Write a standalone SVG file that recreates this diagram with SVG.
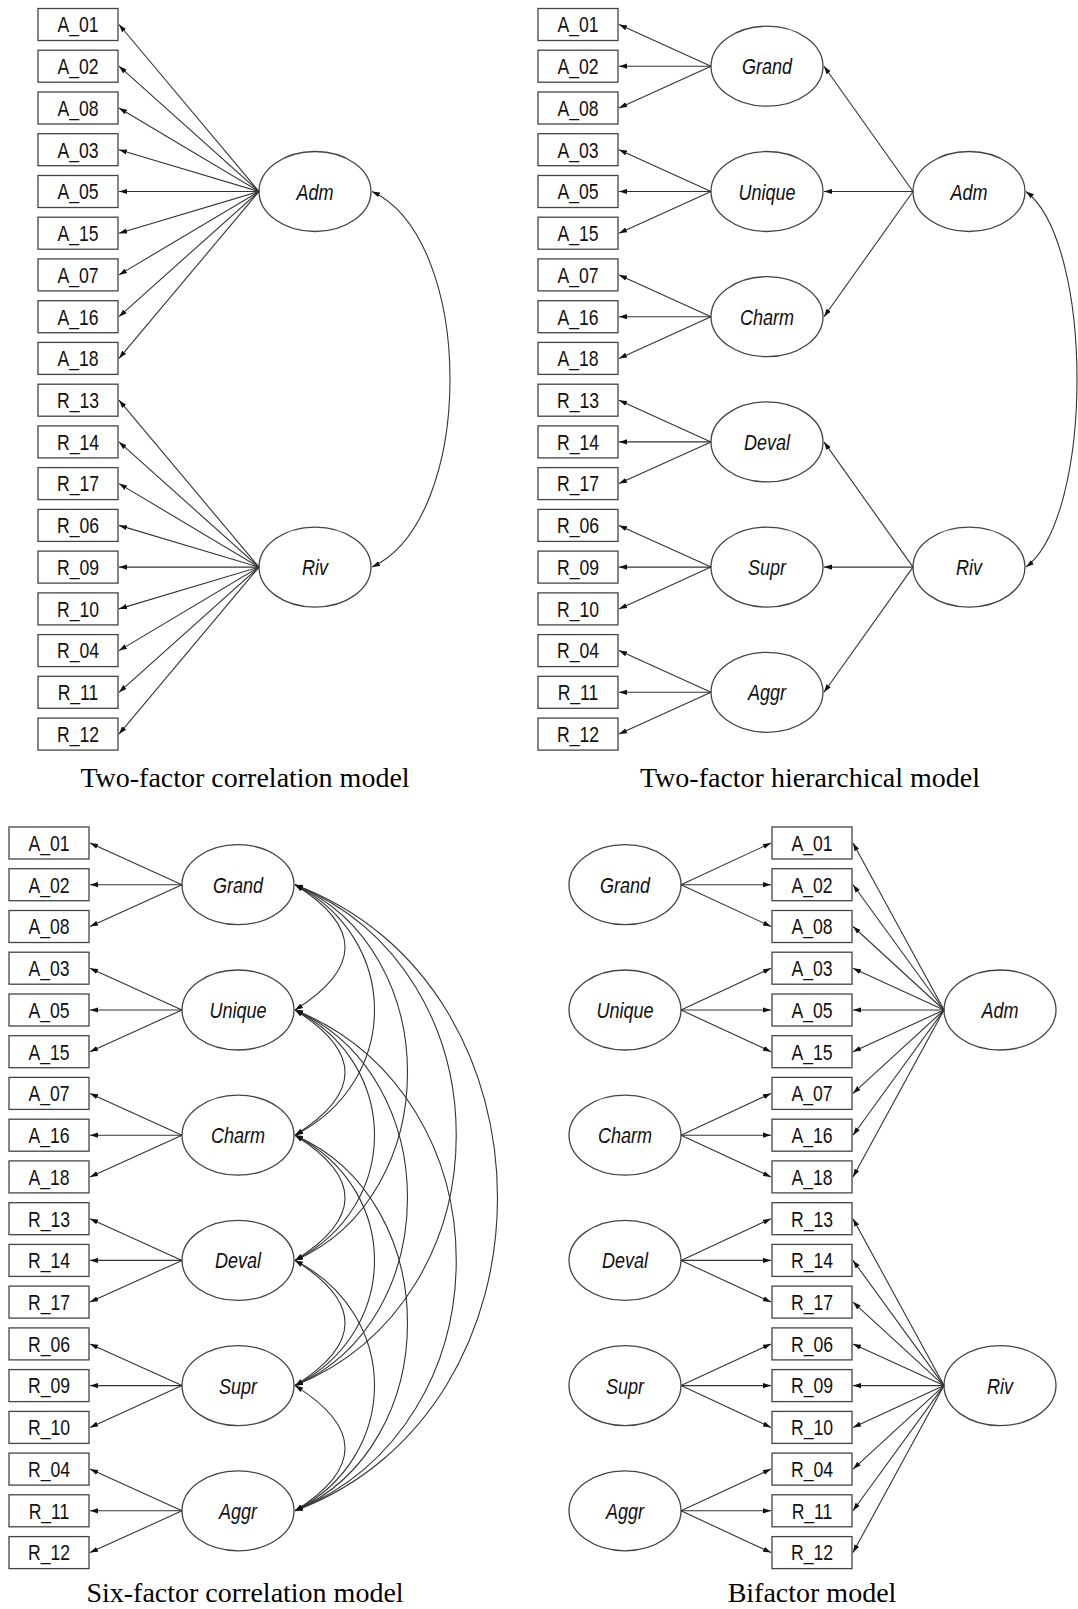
<svg xmlns="http://www.w3.org/2000/svg" width="1078" height="1609" viewBox="0 0 1078 1609">
<defs>
<marker id="ah" viewBox="0 0 8 6" refX="8" refY="3" markerWidth="8" markerHeight="6" markerUnits="userSpaceOnUse" orient="auto-start-reverse"><path d="M0,0.4 L8,3 L0,5.6 z" fill="#111"/></marker>
<style>
.box rect{fill:#fff;stroke:#444;stroke-width:1.3}
.lv ellipse{fill:#fff;stroke:#444;stroke-width:1.3}
text.m{font-family:"Liberation Sans",Arial,sans-serif;font-size:22px;text-anchor:middle;fill:#111}
text.f{font-family:"Liberation Sans",Arial,sans-serif;font-size:22px;font-style:italic;text-anchor:middle;fill:#111}
text.cap{font-family:"Liberation Serif","Times New Roman",serif;font-size:28px;text-anchor:middle;fill:#000}
#connectors line,#connectors path{stroke:#333;stroke-width:1.1;fill:none;marker-end:url(#ah)}
#connectors path.dbl{marker-start:url(#ah)}
</style>
</defs>
<rect width="1078" height="1609" fill="#fff"/>

<!-- Panel 1 nodes -->
<g id="p1_A_01" class="box"><rect x="38" y="8.5" width="80" height="32"/><text class="m" transform="translate(78,32.3) scale(0.8,1)">A_01</text></g>
<g id="p1_A_02" class="box"><rect x="38" y="50.2" width="80" height="32"/><text class="m" transform="translate(78,74) scale(0.8,1)">A_02</text></g>
<g id="p1_A_08" class="box"><rect x="38" y="92" width="80" height="32"/><text class="m" transform="translate(78,115.8) scale(0.8,1)">A_08</text></g>
<g id="p1_A_03" class="box"><rect x="38" y="133.7" width="80" height="32"/><text class="m" transform="translate(78,157.5) scale(0.8,1)">A_03</text></g>
<g id="p1_A_05" class="box"><rect x="38" y="175.5" width="80" height="32"/><text class="m" transform="translate(78,199.3) scale(0.8,1)">A_05</text></g>
<g id="p1_A_15" class="box"><rect x="38" y="217.2" width="80" height="32"/><text class="m" transform="translate(78,241) scale(0.8,1)">A_15</text></g>
<g id="p1_A_07" class="box"><rect x="38" y="258.9" width="80" height="32"/><text class="m" transform="translate(78,282.7) scale(0.8,1)">A_07</text></g>
<g id="p1_A_16" class="box"><rect x="38" y="300.7" width="80" height="32"/><text class="m" transform="translate(78,324.5) scale(0.8,1)">A_16</text></g>
<g id="p1_A_18" class="box"><rect x="38" y="342.4" width="80" height="32"/><text class="m" transform="translate(78,366.2) scale(0.8,1)">A_18</text></g>
<g id="p1_R_13" class="box"><rect x="38" y="384.2" width="80" height="32"/><text class="m" transform="translate(78,408) scale(0.8,1)">R_13</text></g>
<g id="p1_R_14" class="box"><rect x="38" y="425.9" width="80" height="32"/><text class="m" transform="translate(78,449.7) scale(0.8,1)">R_14</text></g>
<g id="p1_R_17" class="box"><rect x="38" y="467.6" width="80" height="32"/><text class="m" transform="translate(78,491.4) scale(0.8,1)">R_17</text></g>
<g id="p1_R_06" class="box"><rect x="38" y="509.4" width="80" height="32"/><text class="m" transform="translate(78,533.2) scale(0.8,1)">R_06</text></g>
<g id="p1_R_09" class="box"><rect x="38" y="551.1" width="80" height="32"/><text class="m" transform="translate(78,574.9) scale(0.8,1)">R_09</text></g>
<g id="p1_R_10" class="box"><rect x="38" y="592.9" width="80" height="32"/><text class="m" transform="translate(78,616.7) scale(0.8,1)">R_10</text></g>
<g id="p1_R_04" class="box"><rect x="38" y="634.6" width="80" height="32"/><text class="m" transform="translate(78,658.4) scale(0.8,1)">R_04</text></g>
<g id="p1_R_11" class="box"><rect x="38" y="676.3" width="80" height="32"/><text class="m" transform="translate(78,700.1) scale(0.8,1)">R_11</text></g>
<g id="p1_R_12" class="box"><rect x="38" y="718.1" width="80" height="32"/><text class="m" transform="translate(78,741.9) scale(0.8,1)">R_12</text></g>
<g id="p1_Adm" class="lv"><ellipse cx="315" cy="191.5" rx="56" ry="40"/><text class="f" transform="translate(315,199.5) scale(0.82,1)">Adm</text></g>
<g id="p1_Riv" class="lv"><ellipse cx="315" cy="567.1" rx="56" ry="40"/><text class="f" transform="translate(315,575.1) scale(0.82,1)">Riv</text></g>
<text class="cap" x="245" y="787">Two-factor correlation model</text>

<!-- Panel 2 nodes -->
<g id="p2_A_01" class="box"><rect x="538" y="8.5" width="80" height="32"/><text class="m" transform="translate(578,32.3) scale(0.8,1)">A_01</text></g>
<g id="p2_A_02" class="box"><rect x="538" y="50.2" width="80" height="32"/><text class="m" transform="translate(578,74) scale(0.8,1)">A_02</text></g>
<g id="p2_A_08" class="box"><rect x="538" y="92" width="80" height="32"/><text class="m" transform="translate(578,115.8) scale(0.8,1)">A_08</text></g>
<g id="p2_A_03" class="box"><rect x="538" y="133.7" width="80" height="32"/><text class="m" transform="translate(578,157.5) scale(0.8,1)">A_03</text></g>
<g id="p2_A_05" class="box"><rect x="538" y="175.5" width="80" height="32"/><text class="m" transform="translate(578,199.3) scale(0.8,1)">A_05</text></g>
<g id="p2_A_15" class="box"><rect x="538" y="217.2" width="80" height="32"/><text class="m" transform="translate(578,241) scale(0.8,1)">A_15</text></g>
<g id="p2_A_07" class="box"><rect x="538" y="258.9" width="80" height="32"/><text class="m" transform="translate(578,282.7) scale(0.8,1)">A_07</text></g>
<g id="p2_A_16" class="box"><rect x="538" y="300.7" width="80" height="32"/><text class="m" transform="translate(578,324.5) scale(0.8,1)">A_16</text></g>
<g id="p2_A_18" class="box"><rect x="538" y="342.4" width="80" height="32"/><text class="m" transform="translate(578,366.2) scale(0.8,1)">A_18</text></g>
<g id="p2_R_13" class="box"><rect x="538" y="384.2" width="80" height="32"/><text class="m" transform="translate(578,408) scale(0.8,1)">R_13</text></g>
<g id="p2_R_14" class="box"><rect x="538" y="425.9" width="80" height="32"/><text class="m" transform="translate(578,449.7) scale(0.8,1)">R_14</text></g>
<g id="p2_R_17" class="box"><rect x="538" y="467.6" width="80" height="32"/><text class="m" transform="translate(578,491.4) scale(0.8,1)">R_17</text></g>
<g id="p2_R_06" class="box"><rect x="538" y="509.4" width="80" height="32"/><text class="m" transform="translate(578,533.2) scale(0.8,1)">R_06</text></g>
<g id="p2_R_09" class="box"><rect x="538" y="551.1" width="80" height="32"/><text class="m" transform="translate(578,574.9) scale(0.8,1)">R_09</text></g>
<g id="p2_R_10" class="box"><rect x="538" y="592.9" width="80" height="32"/><text class="m" transform="translate(578,616.7) scale(0.8,1)">R_10</text></g>
<g id="p2_R_04" class="box"><rect x="538" y="634.6" width="80" height="32"/><text class="m" transform="translate(578,658.4) scale(0.8,1)">R_04</text></g>
<g id="p2_R_11" class="box"><rect x="538" y="676.3" width="80" height="32"/><text class="m" transform="translate(578,700.1) scale(0.8,1)">R_11</text></g>
<g id="p2_R_12" class="box"><rect x="538" y="718.1" width="80" height="32"/><text class="m" transform="translate(578,741.9) scale(0.8,1)">R_12</text></g>
<g id="p2_Grand" class="lv"><ellipse cx="767" cy="66.2" rx="56" ry="40"/><text class="f" transform="translate(767,74.2) scale(0.82,1)">Grand</text></g>
<g id="p2_Unique" class="lv"><ellipse cx="767" cy="191.5" rx="56" ry="40"/><text class="f" transform="translate(767,199.5) scale(0.82,1)">Unique</text></g>
<g id="p2_Charm" class="lv"><ellipse cx="767" cy="316.7" rx="56" ry="40"/><text class="f" transform="translate(767,324.7) scale(0.82,1)">Charm</text></g>
<g id="p2_Deval" class="lv"><ellipse cx="767" cy="441.9" rx="56" ry="40"/><text class="f" transform="translate(767,449.9) scale(0.82,1)">Deval</text></g>
<g id="p2_Supr" class="lv"><ellipse cx="767" cy="567.1" rx="56" ry="40"/><text class="f" transform="translate(767,575.1) scale(0.82,1)">Supr</text></g>
<g id="p2_Aggr" class="lv"><ellipse cx="767" cy="692.3" rx="56" ry="40"/><text class="f" transform="translate(767,700.3) scale(0.82,1)">Aggr</text></g>
<g id="p2_Adm" class="lv"><ellipse cx="969" cy="191.5" rx="56" ry="40"/><text class="f" transform="translate(969,199.5) scale(0.82,1)">Adm</text></g>
<g id="p2_Riv" class="lv"><ellipse cx="969" cy="567.1" rx="56" ry="40"/><text class="f" transform="translate(969,575.1) scale(0.82,1)">Riv</text></g>
<text class="cap" x="810" y="787">Two-factor hierarchical model</text>

<!-- Panel 3 nodes -->
<g id="p3_A_01" class="box"><rect x="9" y="827" width="80" height="32"/><text class="m" transform="translate(49,850.8) scale(0.8,1)">A_01</text></g>
<g id="p3_A_02" class="box"><rect x="9" y="868.7" width="80" height="32"/><text class="m" transform="translate(49,892.5) scale(0.8,1)">A_02</text></g>
<g id="p3_A_08" class="box"><rect x="9" y="910.5" width="80" height="32"/><text class="m" transform="translate(49,934.3) scale(0.8,1)">A_08</text></g>
<g id="p3_A_03" class="box"><rect x="9" y="952.2" width="80" height="32"/><text class="m" transform="translate(49,976) scale(0.8,1)">A_03</text></g>
<g id="p3_A_05" class="box"><rect x="9" y="994" width="80" height="32"/><text class="m" transform="translate(49,1017.8) scale(0.8,1)">A_05</text></g>
<g id="p3_A_15" class="box"><rect x="9" y="1035.7" width="80" height="32"/><text class="m" transform="translate(49,1059.5) scale(0.8,1)">A_15</text></g>
<g id="p3_A_07" class="box"><rect x="9" y="1077.4" width="80" height="32"/><text class="m" transform="translate(49,1101.2) scale(0.8,1)">A_07</text></g>
<g id="p3_A_16" class="box"><rect x="9" y="1119.2" width="80" height="32"/><text class="m" transform="translate(49,1143) scale(0.8,1)">A_16</text></g>
<g id="p3_A_18" class="box"><rect x="9" y="1160.9" width="80" height="32"/><text class="m" transform="translate(49,1184.7) scale(0.8,1)">A_18</text></g>
<g id="p3_R_13" class="box"><rect x="9" y="1202.7" width="80" height="32"/><text class="m" transform="translate(49,1226.5) scale(0.8,1)">R_13</text></g>
<g id="p3_R_14" class="box"><rect x="9" y="1244.4" width="80" height="32"/><text class="m" transform="translate(49,1268.2) scale(0.8,1)">R_14</text></g>
<g id="p3_R_17" class="box"><rect x="9" y="1286.1" width="80" height="32"/><text class="m" transform="translate(49,1309.9) scale(0.8,1)">R_17</text></g>
<g id="p3_R_06" class="box"><rect x="9" y="1327.9" width="80" height="32"/><text class="m" transform="translate(49,1351.7) scale(0.8,1)">R_06</text></g>
<g id="p3_R_09" class="box"><rect x="9" y="1369.6" width="80" height="32"/><text class="m" transform="translate(49,1393.4) scale(0.8,1)">R_09</text></g>
<g id="p3_R_10" class="box"><rect x="9" y="1411.4" width="80" height="32"/><text class="m" transform="translate(49,1435.2) scale(0.8,1)">R_10</text></g>
<g id="p3_R_04" class="box"><rect x="9" y="1453.1" width="80" height="32"/><text class="m" transform="translate(49,1476.9) scale(0.8,1)">R_04</text></g>
<g id="p3_R_11" class="box"><rect x="9" y="1494.8" width="80" height="32"/><text class="m" transform="translate(49,1518.6) scale(0.8,1)">R_11</text></g>
<g id="p3_R_12" class="box"><rect x="9" y="1536.6" width="80" height="32"/><text class="m" transform="translate(49,1560.4) scale(0.8,1)">R_12</text></g>
<g id="p3_Grand" class="lv"><ellipse cx="238" cy="884.7" rx="56" ry="40"/><text class="f" transform="translate(238,892.7) scale(0.82,1)">Grand</text></g>
<g id="p3_Unique" class="lv"><ellipse cx="238" cy="1010" rx="56" ry="40"/><text class="f" transform="translate(238,1018) scale(0.82,1)">Unique</text></g>
<g id="p3_Charm" class="lv"><ellipse cx="238" cy="1135.2" rx="56" ry="40"/><text class="f" transform="translate(238,1143.2) scale(0.82,1)">Charm</text></g>
<g id="p3_Deval" class="lv"><ellipse cx="238" cy="1260.4" rx="56" ry="40"/><text class="f" transform="translate(238,1268.4) scale(0.82,1)">Deval</text></g>
<g id="p3_Supr" class="lv"><ellipse cx="238" cy="1385.6" rx="56" ry="40"/><text class="f" transform="translate(238,1393.6) scale(0.82,1)">Supr</text></g>
<g id="p3_Aggr" class="lv"><ellipse cx="238" cy="1510.8" rx="56" ry="40"/><text class="f" transform="translate(238,1518.8) scale(0.82,1)">Aggr</text></g>
<text class="cap" x="245" y="1602">Six-factor correlation model</text>

<!-- Panel 4 nodes -->
<g id="p4_A_01" class="box"><rect x="772" y="827" width="80" height="32"/><text class="m" transform="translate(812,850.8) scale(0.8,1)">A_01</text></g>
<g id="p4_A_02" class="box"><rect x="772" y="868.7" width="80" height="32"/><text class="m" transform="translate(812,892.5) scale(0.8,1)">A_02</text></g>
<g id="p4_A_08" class="box"><rect x="772" y="910.5" width="80" height="32"/><text class="m" transform="translate(812,934.3) scale(0.8,1)">A_08</text></g>
<g id="p4_A_03" class="box"><rect x="772" y="952.2" width="80" height="32"/><text class="m" transform="translate(812,976) scale(0.8,1)">A_03</text></g>
<g id="p4_A_05" class="box"><rect x="772" y="994" width="80" height="32"/><text class="m" transform="translate(812,1017.8) scale(0.8,1)">A_05</text></g>
<g id="p4_A_15" class="box"><rect x="772" y="1035.7" width="80" height="32"/><text class="m" transform="translate(812,1059.5) scale(0.8,1)">A_15</text></g>
<g id="p4_A_07" class="box"><rect x="772" y="1077.4" width="80" height="32"/><text class="m" transform="translate(812,1101.2) scale(0.8,1)">A_07</text></g>
<g id="p4_A_16" class="box"><rect x="772" y="1119.2" width="80" height="32"/><text class="m" transform="translate(812,1143) scale(0.8,1)">A_16</text></g>
<g id="p4_A_18" class="box"><rect x="772" y="1160.9" width="80" height="32"/><text class="m" transform="translate(812,1184.7) scale(0.8,1)">A_18</text></g>
<g id="p4_R_13" class="box"><rect x="772" y="1202.7" width="80" height="32"/><text class="m" transform="translate(812,1226.5) scale(0.8,1)">R_13</text></g>
<g id="p4_R_14" class="box"><rect x="772" y="1244.4" width="80" height="32"/><text class="m" transform="translate(812,1268.2) scale(0.8,1)">R_14</text></g>
<g id="p4_R_17" class="box"><rect x="772" y="1286.1" width="80" height="32"/><text class="m" transform="translate(812,1309.9) scale(0.8,1)">R_17</text></g>
<g id="p4_R_06" class="box"><rect x="772" y="1327.9" width="80" height="32"/><text class="m" transform="translate(812,1351.7) scale(0.8,1)">R_06</text></g>
<g id="p4_R_09" class="box"><rect x="772" y="1369.6" width="80" height="32"/><text class="m" transform="translate(812,1393.4) scale(0.8,1)">R_09</text></g>
<g id="p4_R_10" class="box"><rect x="772" y="1411.4" width="80" height="32"/><text class="m" transform="translate(812,1435.2) scale(0.8,1)">R_10</text></g>
<g id="p4_R_04" class="box"><rect x="772" y="1453.1" width="80" height="32"/><text class="m" transform="translate(812,1476.9) scale(0.8,1)">R_04</text></g>
<g id="p4_R_11" class="box"><rect x="772" y="1494.8" width="80" height="32"/><text class="m" transform="translate(812,1518.6) scale(0.8,1)">R_11</text></g>
<g id="p4_R_12" class="box"><rect x="772" y="1536.6" width="80" height="32"/><text class="m" transform="translate(812,1560.4) scale(0.8,1)">R_12</text></g>
<g id="p4_Grand" class="lv"><ellipse cx="625" cy="884.7" rx="56" ry="40"/><text class="f" transform="translate(625,892.7) scale(0.82,1)">Grand</text></g>
<g id="p4_Unique" class="lv"><ellipse cx="625" cy="1010" rx="56" ry="40"/><text class="f" transform="translate(625,1018) scale(0.82,1)">Unique</text></g>
<g id="p4_Charm" class="lv"><ellipse cx="625" cy="1135.2" rx="56" ry="40"/><text class="f" transform="translate(625,1143.2) scale(0.82,1)">Charm</text></g>
<g id="p4_Deval" class="lv"><ellipse cx="625" cy="1260.4" rx="56" ry="40"/><text class="f" transform="translate(625,1268.4) scale(0.82,1)">Deval</text></g>
<g id="p4_Supr" class="lv"><ellipse cx="625" cy="1385.6" rx="56" ry="40"/><text class="f" transform="translate(625,1393.6) scale(0.82,1)">Supr</text></g>
<g id="p4_Aggr" class="lv"><ellipse cx="625" cy="1510.8" rx="56" ry="40"/><text class="f" transform="translate(625,1518.8) scale(0.82,1)">Aggr</text></g>
<g id="p4_Adm" class="lv"><ellipse cx="1000" cy="1010" rx="56" ry="40"/><text class="f" transform="translate(1000,1018) scale(0.82,1)">Adm</text></g>
<g id="p4_Riv" class="lv"><ellipse cx="1000" cy="1385.6" rx="56" ry="40"/><text class="f" transform="translate(1000,1393.6) scale(0.82,1)">Riv</text></g>
<text class="cap" x="812" y="1602">Bifactor model</text>

<g id="connectors">
<!-- panel 1 -->
<line x1="259" y1="191.5" x2="119" y2="24.5"/>
<line x1="259" y1="191.5" x2="119" y2="66.2"/>
<line x1="259" y1="191.5" x2="119" y2="108"/>
<line x1="259" y1="191.5" x2="119" y2="149.7"/>
<line x1="259" y1="191.5" x2="119" y2="191.5"/>
<line x1="259" y1="191.5" x2="119" y2="233.2"/>
<line x1="259" y1="191.5" x2="119" y2="274.9"/>
<line x1="259" y1="191.5" x2="119" y2="316.7"/>
<line x1="259" y1="191.5" x2="119" y2="358.4"/>
<line x1="259" y1="567.1" x2="119" y2="400.2"/>
<line x1="259" y1="567.1" x2="119" y2="441.9"/>
<line x1="259" y1="567.1" x2="119" y2="483.6"/>
<line x1="259" y1="567.1" x2="119" y2="525.4"/>
<line x1="259" y1="567.1" x2="119" y2="567.1"/>
<line x1="259" y1="567.1" x2="119" y2="608.9"/>
<line x1="259" y1="567.1" x2="119" y2="650.6"/>
<line x1="259" y1="567.1" x2="119" y2="692.3"/>
<line x1="259" y1="567.1" x2="119" y2="734.1"/>
<path class="dbl" d="M372,191.5 C476,240 476,518.6 372,567.1"/>
<!-- panel 2 -->
<line x1="711" y1="66.2" x2="619" y2="24.5"/>
<line x1="711" y1="66.2" x2="619" y2="66.2"/>
<line x1="711" y1="66.2" x2="619" y2="108"/>
<line x1="711" y1="191.5" x2="619" y2="149.7"/>
<line x1="711" y1="191.5" x2="619" y2="191.5"/>
<line x1="711" y1="191.5" x2="619" y2="233.2"/>
<line x1="711" y1="316.7" x2="619" y2="274.9"/>
<line x1="711" y1="316.7" x2="619" y2="316.7"/>
<line x1="711" y1="316.7" x2="619" y2="358.4"/>
<line x1="711" y1="441.9" x2="619" y2="400.2"/>
<line x1="711" y1="441.9" x2="619" y2="441.9"/>
<line x1="711" y1="441.9" x2="619" y2="483.6"/>
<line x1="711" y1="567.1" x2="619" y2="525.4"/>
<line x1="711" y1="567.1" x2="619" y2="567.1"/>
<line x1="711" y1="567.1" x2="619" y2="608.9"/>
<line x1="711" y1="692.3" x2="619" y2="650.6"/>
<line x1="711" y1="692.3" x2="619" y2="692.3"/>
<line x1="711" y1="692.3" x2="619" y2="734.1"/>
<line x1="913" y1="191.5" x2="824" y2="66.2"/>
<line x1="913" y1="191.5" x2="824" y2="191.5"/>
<line x1="913" y1="191.5" x2="824" y2="316.7"/>
<line x1="913" y1="567.1" x2="824" y2="441.9"/>
<line x1="913" y1="567.1" x2="824" y2="567.1"/>
<line x1="913" y1="567.1" x2="824" y2="692.3"/>
<path class="dbl" d="M1026,191.5 C1094,243.5 1094,515.1 1026,567.1"/>
<!-- panel 3 -->
<line x1="182" y1="884.7" x2="90" y2="843"/>
<line x1="182" y1="884.7" x2="90" y2="884.7"/>
<line x1="182" y1="884.7" x2="90" y2="926.5"/>
<line x1="182" y1="1010" x2="90" y2="968.2"/>
<line x1="182" y1="1010" x2="90" y2="1010"/>
<line x1="182" y1="1010" x2="90" y2="1051.7"/>
<line x1="182" y1="1135.2" x2="90" y2="1093.4"/>
<line x1="182" y1="1135.2" x2="90" y2="1135.2"/>
<line x1="182" y1="1135.2" x2="90" y2="1176.9"/>
<line x1="182" y1="1260.4" x2="90" y2="1218.7"/>
<line x1="182" y1="1260.4" x2="90" y2="1260.4"/>
<line x1="182" y1="1260.4" x2="90" y2="1302.1"/>
<line x1="182" y1="1385.6" x2="90" y2="1343.9"/>
<line x1="182" y1="1385.6" x2="90" y2="1385.6"/>
<line x1="182" y1="1385.6" x2="90" y2="1427.4"/>
<line x1="182" y1="1510.8" x2="90" y2="1469.1"/>
<line x1="182" y1="1510.8" x2="90" y2="1510.8"/>
<line x1="182" y1="1510.8" x2="90" y2="1552.6"/>
<path class="dbl" d="M295,884.7 C361.7,926.4 361.7,968.3 295,1010"/>
<path class="dbl" d="M295,1010 C361.7,1051.7 361.7,1093.5 295,1135.2"/>
<path class="dbl" d="M295,1135.2 C361.7,1176.9 361.7,1218.7 295,1260.4"/>
<path class="dbl" d="M295,1260.4 C361.7,1302.1 361.7,1343.9 295,1385.6"/>
<path class="dbl" d="M295,1385.6 C361.7,1427.3 361.7,1469.1 295,1510.8"/>
<path class="dbl" d="M295,884.7 C401,939 401,1080.9 295,1135.2"/>
<path class="dbl" d="M295,1010 C401,1064.3 401,1206.1 295,1260.4"/>
<path class="dbl" d="M295,1135.2 C401,1189.5 401,1331.3 295,1385.6"/>
<path class="dbl" d="M295,1260.4 C401,1314.7 401,1456.5 295,1510.8"/>
<path class="dbl" d="M295,884.7 C445,950.5 445,1194.6 295,1260.4"/>
<path class="dbl" d="M295,1010 C445,1075.8 445,1319.8 295,1385.6"/>
<path class="dbl" d="M295,1135.2 C445,1201 445,1445 295,1510.8"/>
<path class="dbl" d="M295,884.7 C510,972 510,1298.3 295,1385.6"/>
<path class="dbl" d="M295,1010 C510,1097.3 510,1423.5 295,1510.8"/>
<path class="dbl" d="M295,884.7 C565,986 565,1409.5 295,1510.8"/>
<!-- panel 4 -->
<line x1="681" y1="884.7" x2="771" y2="843"/>
<line x1="681" y1="884.7" x2="771" y2="884.7"/>
<line x1="681" y1="884.7" x2="771" y2="926.5"/>
<line x1="681" y1="1010" x2="771" y2="968.2"/>
<line x1="681" y1="1010" x2="771" y2="1010"/>
<line x1="681" y1="1010" x2="771" y2="1051.7"/>
<line x1="681" y1="1135.2" x2="771" y2="1093.4"/>
<line x1="681" y1="1135.2" x2="771" y2="1135.2"/>
<line x1="681" y1="1135.2" x2="771" y2="1176.9"/>
<line x1="681" y1="1260.4" x2="771" y2="1218.7"/>
<line x1="681" y1="1260.4" x2="771" y2="1260.4"/>
<line x1="681" y1="1260.4" x2="771" y2="1302.1"/>
<line x1="681" y1="1385.6" x2="771" y2="1343.9"/>
<line x1="681" y1="1385.6" x2="771" y2="1385.6"/>
<line x1="681" y1="1385.6" x2="771" y2="1427.4"/>
<line x1="681" y1="1510.8" x2="771" y2="1469.1"/>
<line x1="681" y1="1510.8" x2="771" y2="1510.8"/>
<line x1="681" y1="1510.8" x2="771" y2="1552.6"/>
<line x1="944" y1="1010" x2="853" y2="843"/>
<line x1="944" y1="1010" x2="853" y2="884.7"/>
<line x1="944" y1="1010" x2="853" y2="926.5"/>
<line x1="944" y1="1010" x2="853" y2="968.2"/>
<line x1="944" y1="1010" x2="853" y2="1010"/>
<line x1="944" y1="1010" x2="853" y2="1051.7"/>
<line x1="944" y1="1010" x2="853" y2="1093.4"/>
<line x1="944" y1="1010" x2="853" y2="1135.2"/>
<line x1="944" y1="1010" x2="853" y2="1176.9"/>
<line x1="944" y1="1385.6" x2="853" y2="1218.7"/>
<line x1="944" y1="1385.6" x2="853" y2="1260.4"/>
<line x1="944" y1="1385.6" x2="853" y2="1302.1"/>
<line x1="944" y1="1385.6" x2="853" y2="1343.9"/>
<line x1="944" y1="1385.6" x2="853" y2="1385.6"/>
<line x1="944" y1="1385.6" x2="853" y2="1427.4"/>
<line x1="944" y1="1385.6" x2="853" y2="1469.1"/>
<line x1="944" y1="1385.6" x2="853" y2="1510.8"/>
<line x1="944" y1="1385.6" x2="853" y2="1552.6"/>
</g>
</svg>
